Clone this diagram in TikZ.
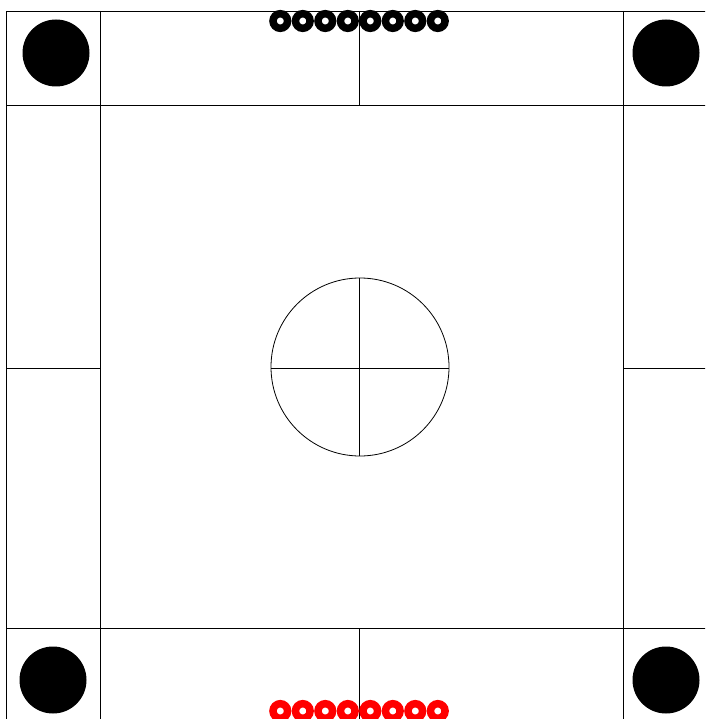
\documentclass[tikz,border=0pt]{standalone}
\begin{document}
\begin{tikzpicture}[x=1pt,y=-1pt,
  board/.style={draw=black,line width=0.8pt},
  pocket/.style={fill=black},
  coin/.style={draw=#1,line width=7.5pt}]
\useasboundingbox (0,0) rectangle (705,719);
\begin{scope}
\clip (0,0) rectangle (705,719);
% outer frame
\draw[board] (6,11) rectangle (717,722);
% inner lines
\draw[board] (100,11) -- (100,722);
\draw[board] (623,11) -- (623,722);
\draw[board] (6,105) -- (717,105);
\draw[board] (6,628) -- (717,628);
% middle dividers
\draw[board] (359,11) -- (359,105);
\draw[board] (359,628) -- (359,722);
\draw[board] (6,368) -- (100,368);
\draw[board] (623,368) -- (717,368);
% centre circle
\draw[board] (360,367) circle (89);
\draw[board] (359,278) -- (359,456);
\draw[board] (271,368) -- (449,368);
% pockets
\fill[pocket] (56,53) circle (33.5);
\fill[pocket] (666,53) circle (33.5);
\fill[pocket] (53,680) circle (33.5);
\fill[pocket] (666,680) circle (33.5);
% coins
\foreach \i in {0,...,7}{
  \draw[coin=black] ({280.3+22.5*\i},21) circle (7.3);
  \draw[coin=red] ({280.3+22.5*\i},711) circle (7.3);
}
\end{scope}
\end{tikzpicture}
\end{document}
